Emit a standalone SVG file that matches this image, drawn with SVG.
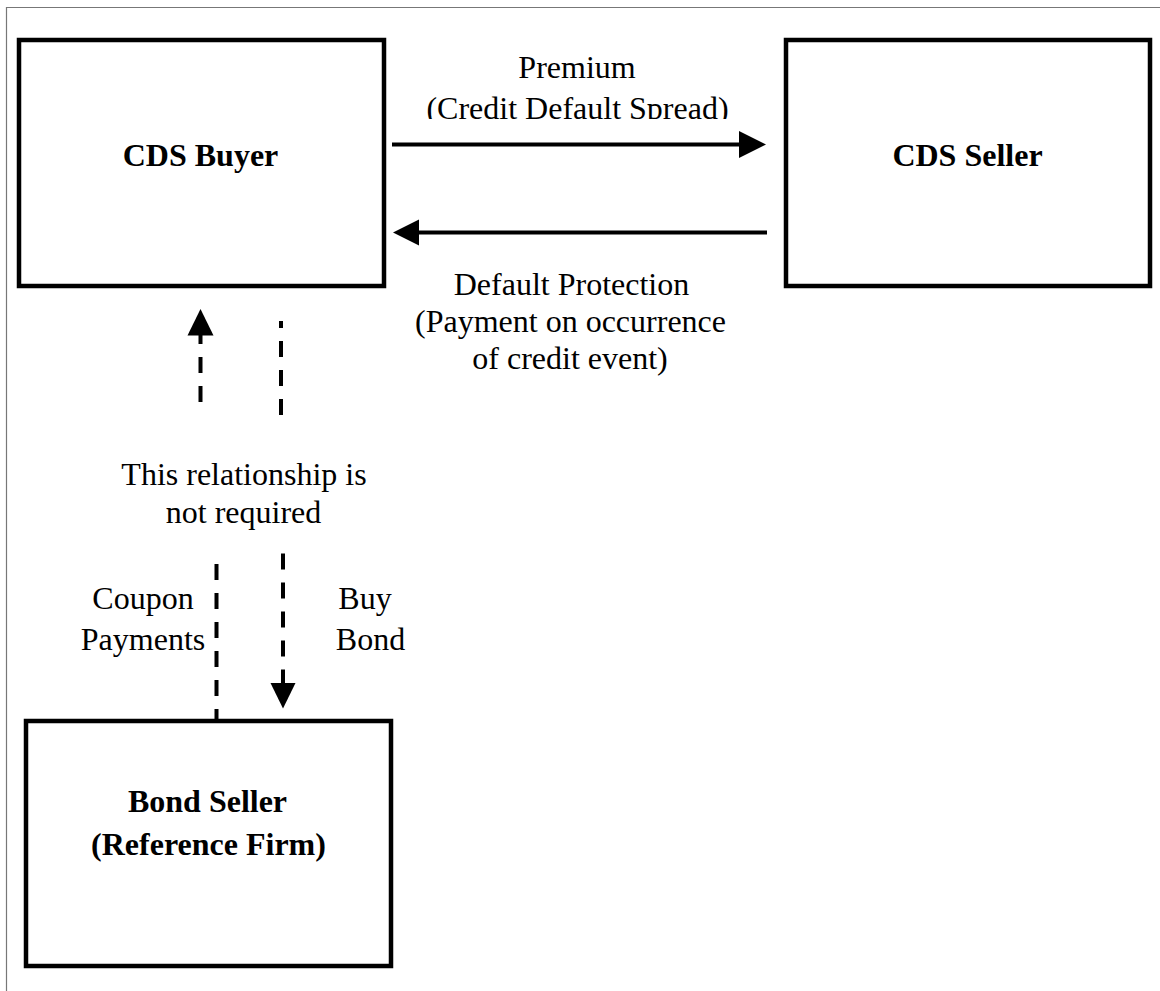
<svg xmlns="http://www.w3.org/2000/svg" width="1160" height="991" viewBox="0 0 1160 991">
  <style>
    .box { fill: #ffffff; stroke: #000000; stroke-width: 4.5; }
    .lbl { font-family: "Liberation Serif", "Times New Roman", serif; font-size: 32px; fill: #000000; text-anchor: middle; }
    .bold { font-weight: bold; }
    .solid { stroke: #000000; stroke-width: 4; fill: none; }
    .dash { stroke: #000000; stroke-width: 4; fill: none; stroke-dasharray: 16 13; }
    .head { fill: #000000; stroke: none; }
  </style>
  <defs>
    <clipPath id="premClip">
      <rect x="400" y="40" width="360" height="79"/>
    </clipPath>
  </defs>
  <rect x="0" y="0" width="1160" height="991" fill="#ffffff"/>
  <path d="M6.5,991 V7.5 H1160" fill="none" stroke="#777777" stroke-width="1.2"/>

  <g id="cds-buyer">
    <rect class="box" x="19" y="40" width="365" height="246"/>
    <text class="lbl bold" x="200.5" y="166">CDS Buyer</text>
  </g>

  <g id="cds-seller">
    <rect class="box" x="786" y="40" width="364" height="246"/>
    <text class="lbl bold" x="967.5" y="166">CDS Seller</text>
  </g>

  <g id="bond-seller">
    <rect class="box" x="26" y="721" width="365" height="245"/>
    <text class="lbl bold" x="207.5" y="812">Bond Seller</text>
    <text class="lbl bold" x="208.5" y="855">(Reference Firm)</text>
  </g>

  <g id="connectors">
    <line class="solid" x1="392" y1="144.5" x2="741" y2="144.5"/>
    <polygon class="head" points="739,131 766,144.5 739,158"/>
    <line class="solid" x1="767" y1="232.5" x2="417" y2="232.5"/>
    <polygon class="head" points="419,219.5 393,232.5 419,245.5"/>
    <line class="dash" x1="200.5" y1="402" x2="200.5" y2="335"/>
    <polygon class="head" points="187.5,335.5 200.5,309 213.5,335.5"/>
    <line class="dash" x1="281" y1="415" x2="281" y2="321"/>
    <line class="dash" x1="216.5" y1="564" x2="216.5" y2="719"/>
    <line class="dash" x1="283" y1="553.5" x2="283" y2="684"/>
    <polygon class="head" points="270.5,683 283,708.5 295.5,683"/>
  </g>

  <g id="labels">
    <g clip-path="url(#premClip)">
      <text class="lbl" x="577" y="78">Premium</text>
      <text class="lbl" x="577.5" y="119">(Credit Default Spread)</text>
    </g>
    <text class="lbl" x="571.5" y="295">Default Protection</text>
    <text class="lbl" x="570.5" y="332">(Payment on occurrence</text>
    <text class="lbl" x="570" y="369">of credit event)</text>
    <text class="lbl" x="244" y="485">This relationship is</text>
    <text class="lbl" x="243.5" y="523">not required</text>
    <text class="lbl" x="143" y="609">Coupon</text>
    <text class="lbl" x="143" y="650">Payments</text>
    <text class="lbl" x="365" y="609">Buy</text>
    <text class="lbl" x="370.5" y="650">Bond</text>
  </g>
</svg>
